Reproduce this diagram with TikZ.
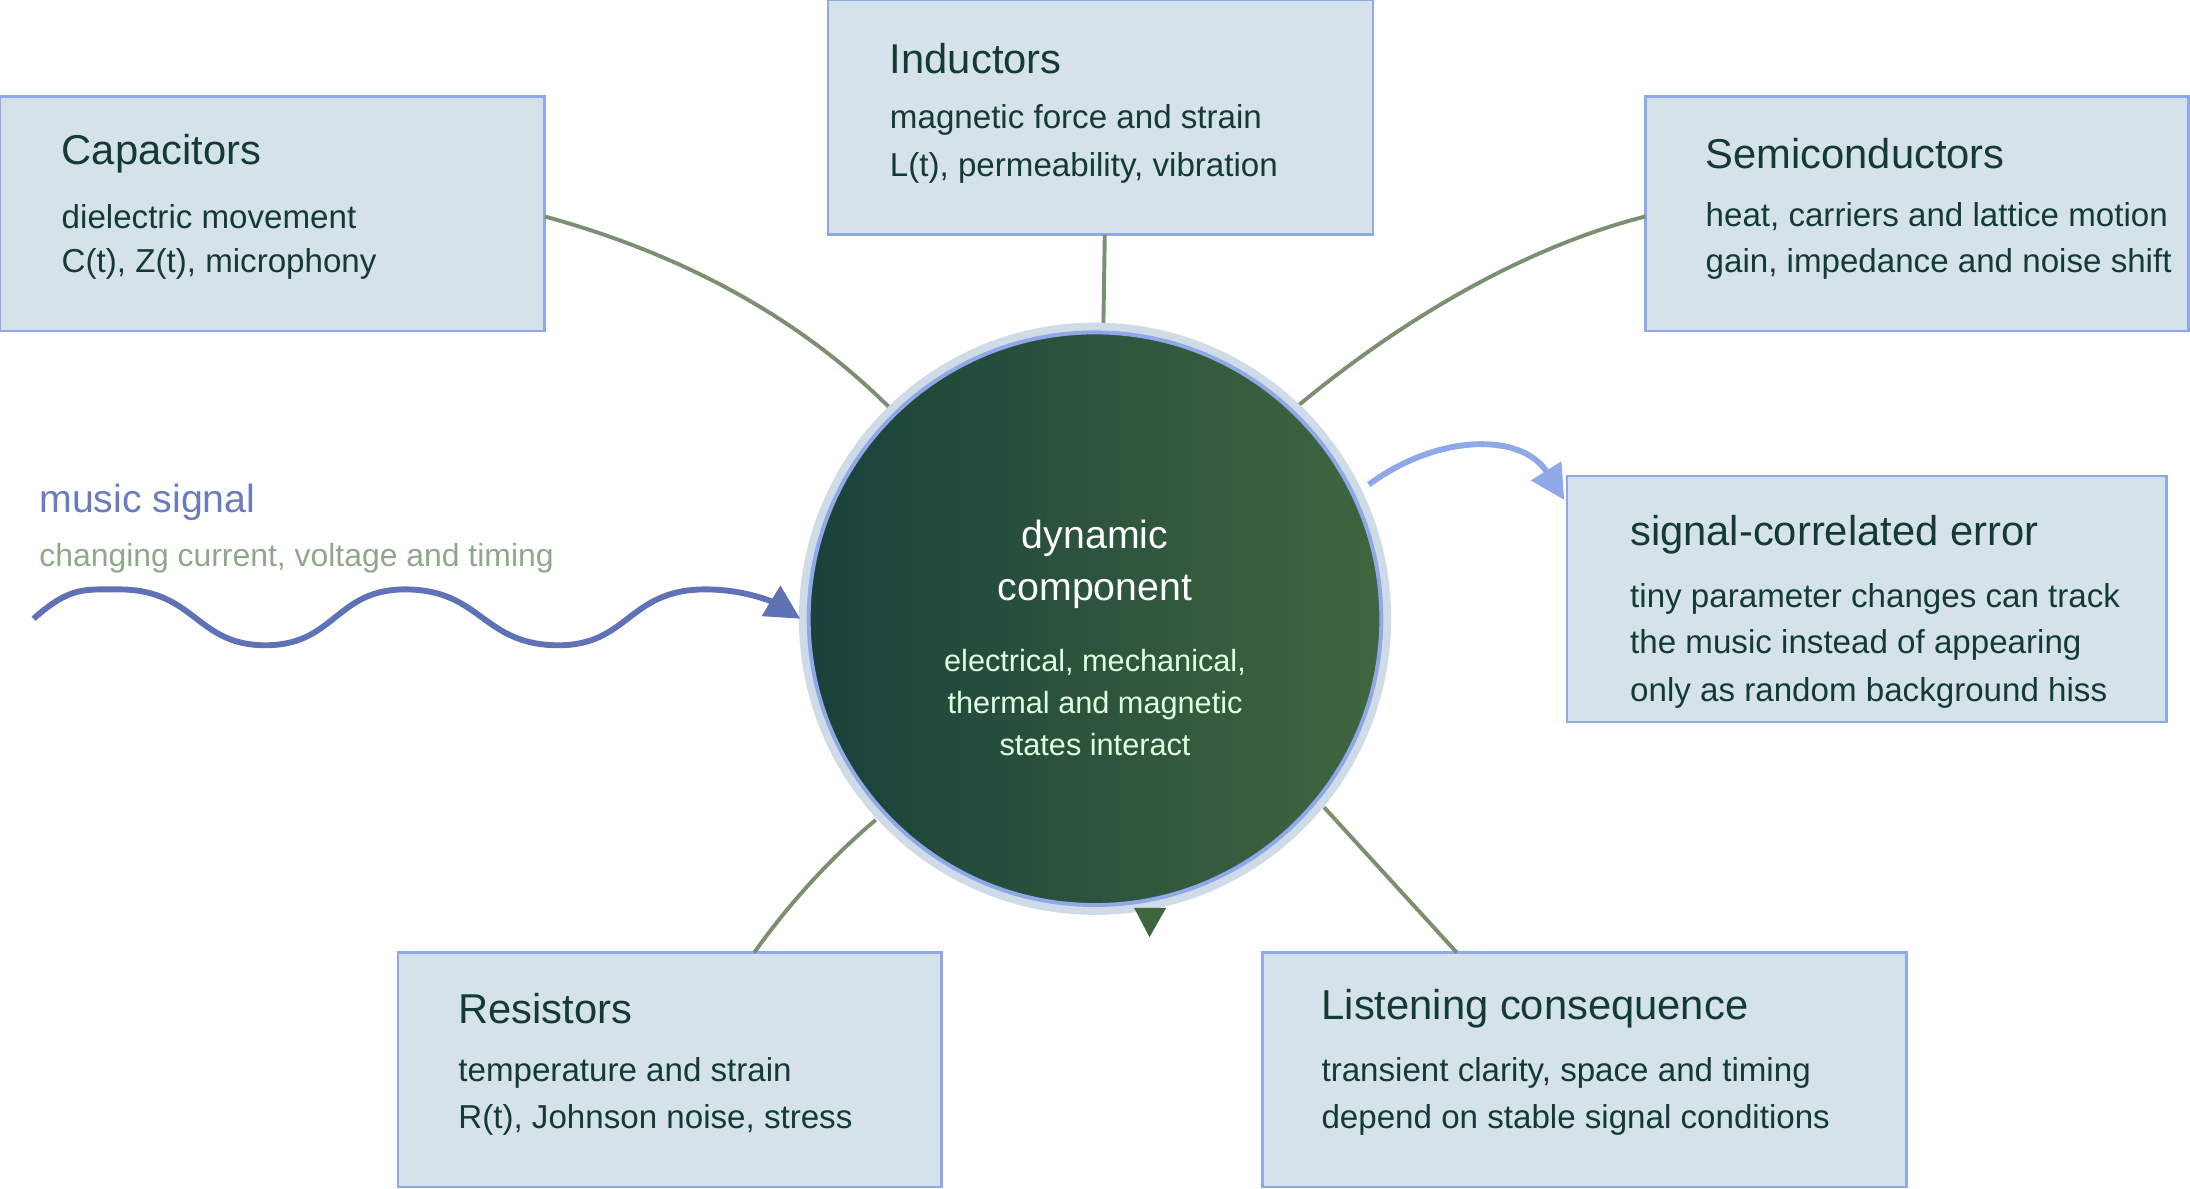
\documentclass[tikz,border=0pt]{standalone}
\usepackage{fontspec}
\setmainfont{Liberation Sans}
\usetikzlibrary{arrows.meta}
\definecolor{boxfill}{HTML}{D6E2EA}
\definecolor{boxline}{HTML}{8FA8E8}
\definecolor{ink}{HTML}{123B33}
\definecolor{link}{HTML}{7A9070}
\definecolor{wave}{HTML}{5F72B5}
\definecolor{musictxt}{HTML}{6A7CC0}
\definecolor{subtxt}{HTML}{8FA88A}
\definecolor{halo}{HTML}{CFDBE6}
\definecolor{coreA}{HTML}{18423A}
\definecolor{coreB}{HTML}{40663F}
\begin{document}
\begin{tikzpicture}[x=0.02cm,y=-0.02cm,
  panel/.style={draw=boxline,fill=boxfill,line width=1pt},
  ttl/.style={anchor=west,text=ink,font=\fontsize{17}{20}\selectfont},
  txt/.style={anchor=west,text=ink,font=\fontsize{13.5}{16}\selectfont},
  link/.style={draw=link,line width=1.6pt}]
  \useasboundingbox (0,0) rectangle (1568,851);
  %boxes
  \draw[panel] (0,69) rectangle (390,237);
  \node[ttl] (capT) at (38,110) {Capacitors};
  \node[txt] (capA) at (38,155) {dielectric movement};
  \node[txt] (capB) at (38,189) {C(t), Z(t), microphony};
  \draw[panel] (593,0) rectangle (983,168);
  \node[ttl] (indT) at (631,42) {Inductors};
  \node[txt] (indA) at (631,86) {magnetic force and strain};
  \node[txt] (indB) at (631,120) {L(t), permeability, vibration};
  \draw[panel] (1178,69) rectangle (1567,237);
  \node[ttl] (semT) at (1215,110) {Semiconductors};
  \node[txt] (semA) at (1215,155) {heat, carriers and lattice motion};
  \node[txt] (semB) at (1215,189) {gain, impedance and noise shift};
  \draw[panel] (1122,341) rectangle (1551,517);
  \node[ttl] (errT) at (1161,383) {signal-correlated error};
  \node[txt] (errA) at (1161,429) {tiny parameter changes can track};
  \node[txt] (errB) at (1161,462) {the music instead of appearing};
  \node[txt] (errC) at (1161,496) {only as random background hiss};
  \draw[panel] (285,682) rectangle (674,850);
  \node[ttl] (resT) at (322,722) {Resistors};
  \node[txt] (resA) at (322,768) {temperature and strain};
  \node[txt] (resB) at (322,802) {R(t), Johnson noise, stress};
  \draw[panel] (904,682) rectangle (1365,850);
  \node[ttl] (lisT) at (940,722) {Listening consequence};
  \node[txt] (lisA) at (940,768) {transient clarity, space and timing};
  \node[txt] (lisB) at (940,802) {depend on stable signal conditions};
  %links
  \draw[link] (390,155) .. controls (500,185) and (580,235) .. (637,292);
  \draw[link] (791,168) -- (790,233);
  \draw[link] (1178,155) .. controls (1080,180) and (990,240) .. (930,290);
  \draw[link] (540,682) .. controls (570,640) and (600,610) .. (627,587);
  \draw[link] (1043,682) -- (948,578);
  %core
  \fill[halo] (784,443) circle (212);
  \shade[shading angle=135,left color=coreA,right color=coreB] (784,443) circle (205);
  \draw[boxline,line width=1.6pt] (784,443) circle (205);
  \node[text=white,align=center,font=\fontsize{16}{21}\selectfont] (coreT) at (784,404) {dynamic\\component};
  \node[text=white!88!green,align=center,font=\fontsize{12.5}{17}\selectfont] (coreA) at (784,503) {electrical, mechanical,\\thermal and magnetic\\states interact};
  \fill[coreB] (812,650) -- (835,650) -- (823,671) -- cycle;
  %error arrow
  \draw[boxline,line width=2.4pt,-{Triangle[length=14pt,width=14pt]}] (980,347) .. controls (1030,310) and (1090,310) .. (1120,358);
  %music
  \node[anchor=west,text=musictxt,font=\fontsize{16}{19}\selectfont] (musT) at (22,360) {music signal};
  \node[anchor=west,text=subtxt,font=\fontsize{13}{16}\selectfont] (musA) at (22,400) {changing current, voltage and timing};
  \draw[wave,line width=2.4pt,-{Triangle[length=14pt,width=14pt]}] (24,443)
    .. controls (50,420) and (60,422) .. (85,422)
    .. controls (140,422) and (140,462) .. (190,462)
    .. controls (240,462) and (240,422) .. (290,422)
    .. controls (345,422) and (345,462) .. (400,462)
    .. controls (450,462) and (450,422) .. (505,422)
    .. controls (535,422) and (555,432) .. (573,443);
\end{tikzpicture}
\end{document}
